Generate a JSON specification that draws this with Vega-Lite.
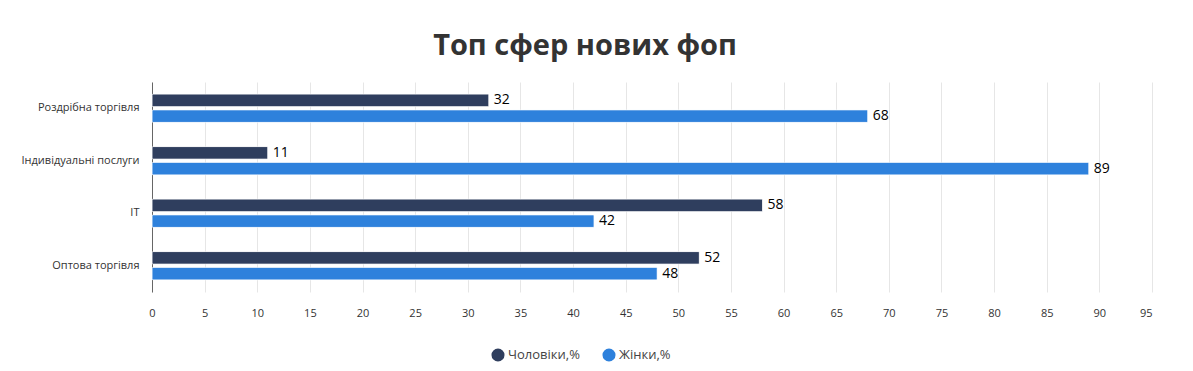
{
  "$schema": "https://vega.github.io/schema/vega-lite/v6.json",
  "width": 1000,
  "height": 210,
  "autosize": {"type": "none"},
  "padding": {"left": 152, "top": 82, "right": 41, "bottom": 79},
  "background": "#ffffff",
  "title": {
    "text": "Топ сфер нових фоп",
    "font": "Open Sans",
    "fontSize": 29,
    "fontWeight": "bold",
    "color": "#333333",
    "anchor": "middle",
    "dx": -67,
    "offset": 21
  },
  "config": {
    "view": {"stroke": null},
    "font": "Open Sans"
  },
  "data": {
    "values": [
      {"sphere": "Роздрібна торгівля", "group": "Чоловіки,%", "value": 32},
      {"sphere": "Роздрібна торгівля", "group": "Жінки,%", "value": 68},
      {"sphere": "Індивідуальні послуги", "group": "Чоловіки,%", "value": 11},
      {"sphere": "Індивідуальні послуги", "group": "Жінки,%", "value": 89},
      {"sphere": "IT", "group": "Чоловіки,%", "value": 58},
      {"sphere": "IT", "group": "Жінки,%", "value": 42},
      {"sphere": "Оптова торгівля", "group": "Чоловіки,%", "value": 52},
      {"sphere": "Оптова торгівля", "group": "Жінки,%", "value": 48}
    ]
  },
  "encoding": {
    "y": {
      "field": "sphere",
      "type": "nominal",
      "sort": ["Роздрібна торгівля", "Індивідуальні послуги", "IT", "Оптова торгівля"],
      "scale": {"paddingInner": 0.46, "paddingOuter": 0.23},
      "axis": {
        "title": null,
        "ticks": false,
        "labelFontSize": 11,
        "labelColor": "#333333",
        "labelPadding": 13,
        "domainColor": "#666666",
        "domainWidth": 1,
        "grid": false
      }
    },
    "yOffset": {
      "field": "group",
      "type": "nominal",
      "sort": ["Чоловіки,%", "Жінки,%"],
      "scale": {"paddingInner": 0.2, "paddingOuter": 0}
    },
    "x": {
      "field": "value",
      "type": "quantitative",
      "scale": {"domain": [0, 95], "nice": false},
      "axis": {
        "title": null,
        "values": [0, 5, 10, 15, 20, 25, 30, 35, 40, 45, 50, 55, 60, 65, 70, 75, 80, 85, 90, 95],
        "domain": false,
        "ticks": false,
        "grid": true,
        "gridColor": "#e6e6e6",
        "gridWidth": 1,
        "labelFontSize": 11,
        "labelColor": "#333333",
        "labelPadding": 15,
        "labelAlign": {"expr": "datum.value >= 95 ? 'right' : 'center'"}
      }
    }
  },
  "layer": [
    {
      "mark": {"type": "bar", "stroke": "#ffffff", "strokeOpacity": 0.5, "strokeWidth": 1, "cornerRadius": 1},
      "encoding": {
        "color": {
          "field": "group",
          "type": "nominal",
          "scale": {"domain": ["Чоловіки,%", "Жінки,%"], "range": ["#2f3e5e", "#2e81dc"]},
          "legend": {
            "title": null,
            "orient": "none",
            "direction": "horizontal",
            "legendX": 339,
            "legendY": 266,
            "symbolType": "circle",
            "symbolSize": 170,
            "symbolStrokeWidth": 0,
            "labelFontSize": 13,
            "labelColor": "#444444",
            "labelOffset": 3,
            "columnPadding": 22
          }
        }
      }
    },
    {
      "mark": {"type": "text", "align": "left", "baseline": "middle", "dx": 5, "fontSize": 14, "color": "#000000"},
      "encoding": {
        "text": {"field": "value", "type": "quantitative"}
      }
    }
  ]
}
